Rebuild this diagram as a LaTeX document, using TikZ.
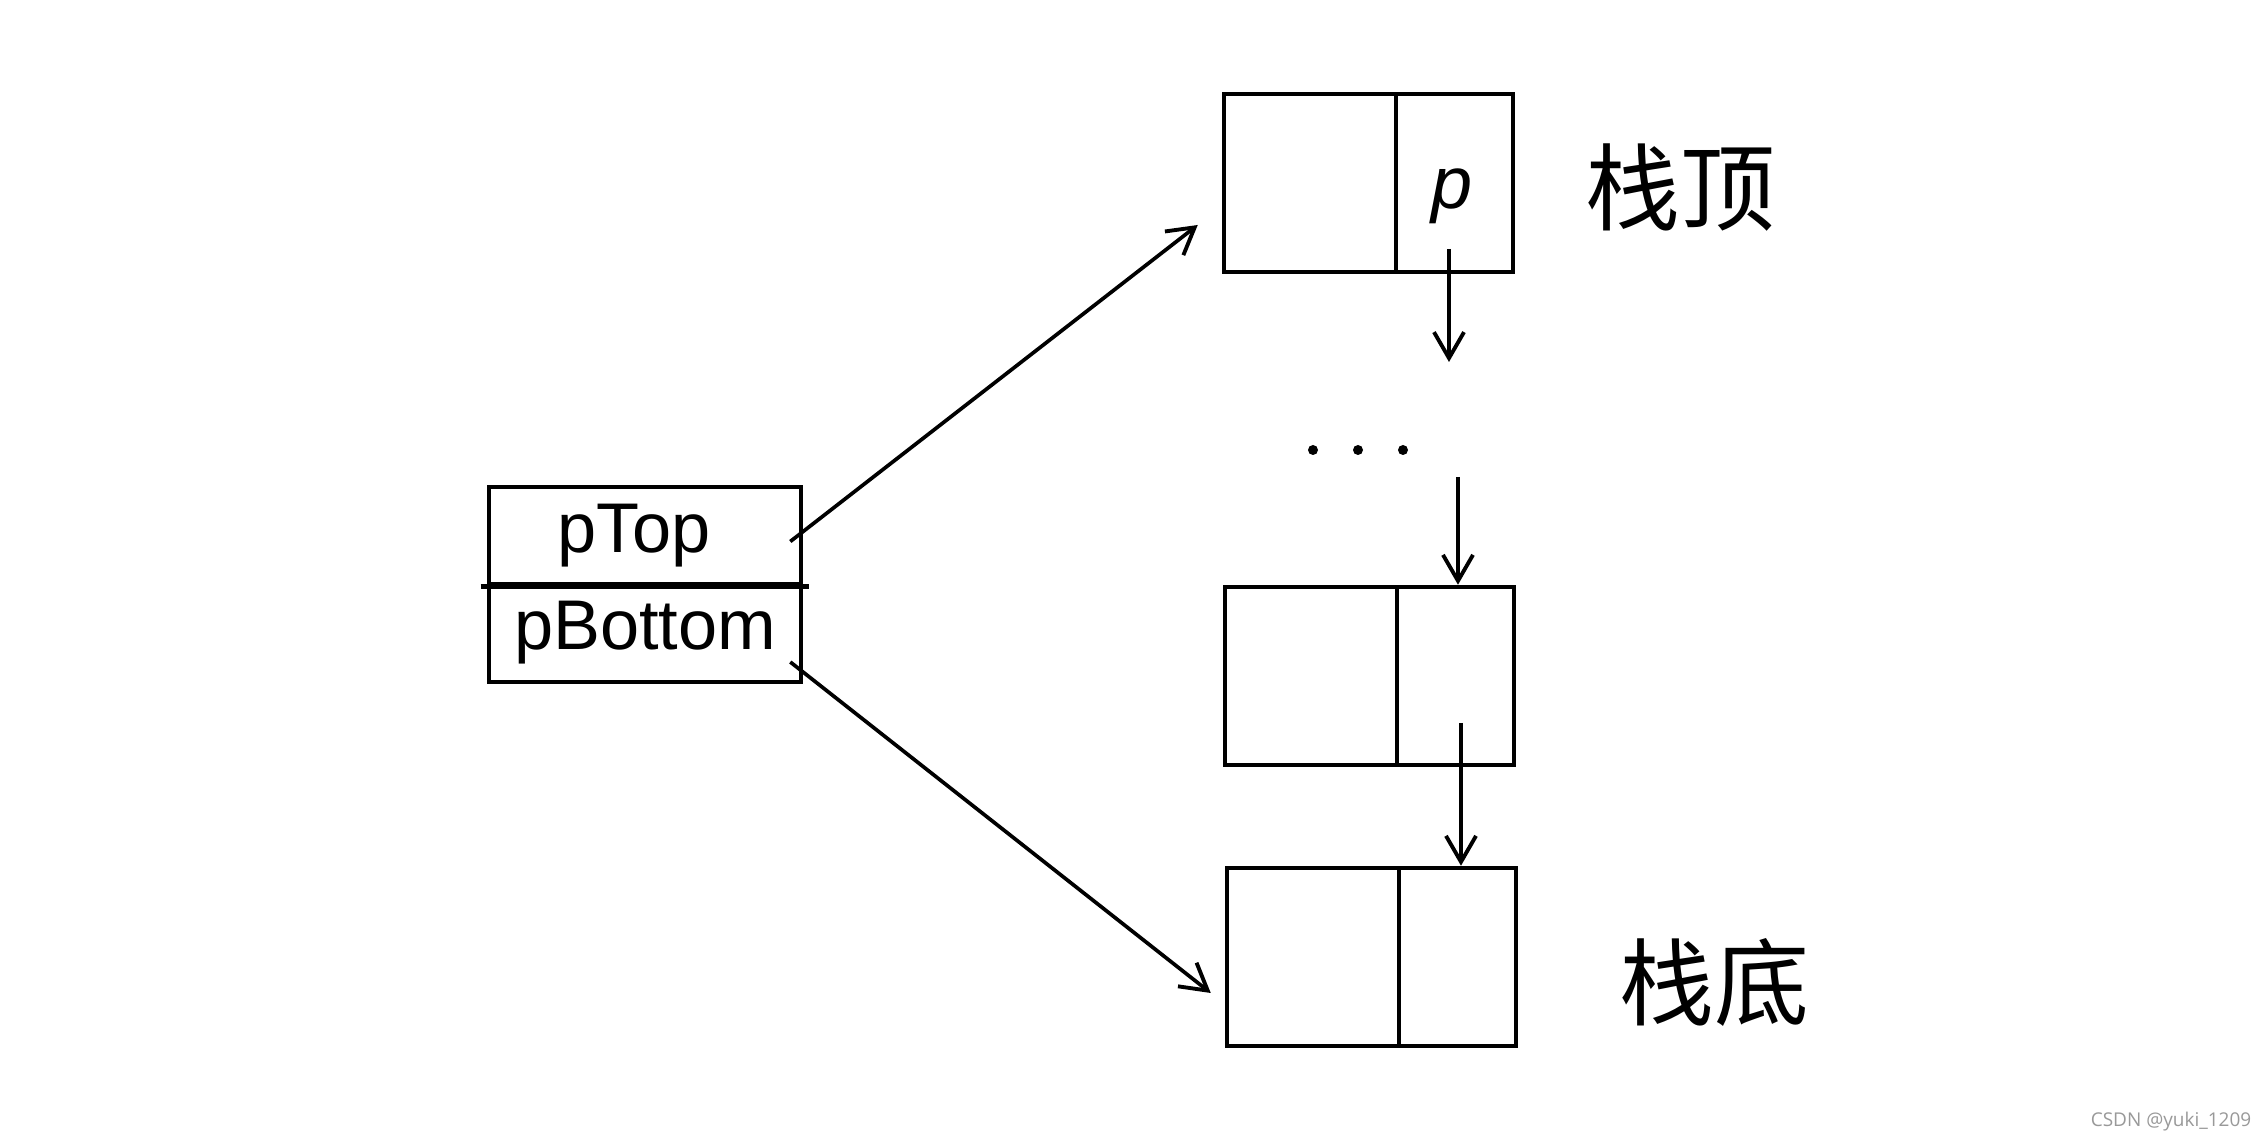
\documentclass[tikz,border=0pt]{standalone}
\usepackage{fontspec}
\setmainfont{Liberation Sans}
\newfontfamily\cjk{Noto Sans CJK SC}
\newfontfamily\wmfont{Open Sans}
\usetikzlibrary{arrows.meta}
\begin{document}
\begin{tikzpicture}[x=0.01cm,y=-0.01cm,
  cell/.style={draw,line width=1.25pt,inner sep=0pt,minimum height=1.78cm},
  fieldbox/.style={draw,line width=1.25pt,inner sep=0pt,minimum width=3.12cm,minimum height=0.975cm,
    font=\fontsize{20pt}{24pt}\selectfont},
  link/.style={line width=1.05pt,-{Straight Barb[length=0.26cm,width=0.3cm,line width=1.1pt]}},
  cjklabel/.style={font=\cjk\fontsize{27pt}{30pt}\selectfont,inner sep=0pt},
  dotmark/.style={circle,fill=black,inner sep=0pt,minimum size=0.1cm}]
\useasboundingbox (0,0) rectangle (2268,1146);
\fill[white] (0,0) rectangle (2268,1146);

% left structure
\node[fieldbox] (ptop) at (645,535.5) {pTop\kern0.22cm};
\node[fieldbox] (pbottom) at (645,633) {pBottom};
\draw[line width=1.25pt] ([xshift=-0.06cm]ptop.south west) -- ([xshift=0.06cm]ptop.south east);

% top node
\node[cell,minimum width=1.72cm] (topL) at (1310,183) {};
\node[cell,minimum width=1.17cm] (topR) at (1454.5,183) {};
\node[inner sep=0pt,font=\itshape\fontsize{21pt}{24pt}\selectfont] (p) at (1452,196) {p};
\node[cjklabel] (toplabel) at (1680,188) {栈顶};

% dots
\node[dotmark] (d1) at (1313,450) {};
\node[dotmark] (d2) at (1358,450) {};
\node[dotmark] (d3) at (1403,450) {};

% middle node
\node[cell,minimum width=1.72cm] (midL) at (1311,676) {};
\node[cell,minimum width=1.17cm] (midR) at (1455.5,676) {};

% bottom node
\node[cell,minimum width=1.72cm] (botL) at (1313,957) {};
\node[cell,minimum width=1.17cm] (botR) at (1457.5,957) {};
\node[cjklabel] (botlabel) at (1714,982) {栈底};

% watermark
\node[anchor=east,inner sep=0pt,text=black!40,font=\wmfont\fontsize{5.4pt}{6pt}\selectfont] (wm) at (2252,1122) {CSDN @yuki\_1209};

% pointers
\draw[link] ([shift={(-13,6)}]ptop.east) -- ([shift={(-24,42)}]topL.west);
\draw[link] ([shift={(-13,29)}]pbottom.east) -- ([shift={(-14,36)}]botL.west);

\coordinate (a1s) at (1449,249);
\coordinate (a1e) at (1449,362);
\draw[link,line width=1.2pt] (a1s) -- (a1e);
\coordinate (a2s) at (1458,477);
\draw[link,line width=1.2pt] (a2s) -- (a2s |- midR.north);
\coordinate (a3s) at (1461,723);
\draw[link,line width=1.2pt] (a3s) -- (a3s |- botR.north);
\end{tikzpicture}
\end{document}
